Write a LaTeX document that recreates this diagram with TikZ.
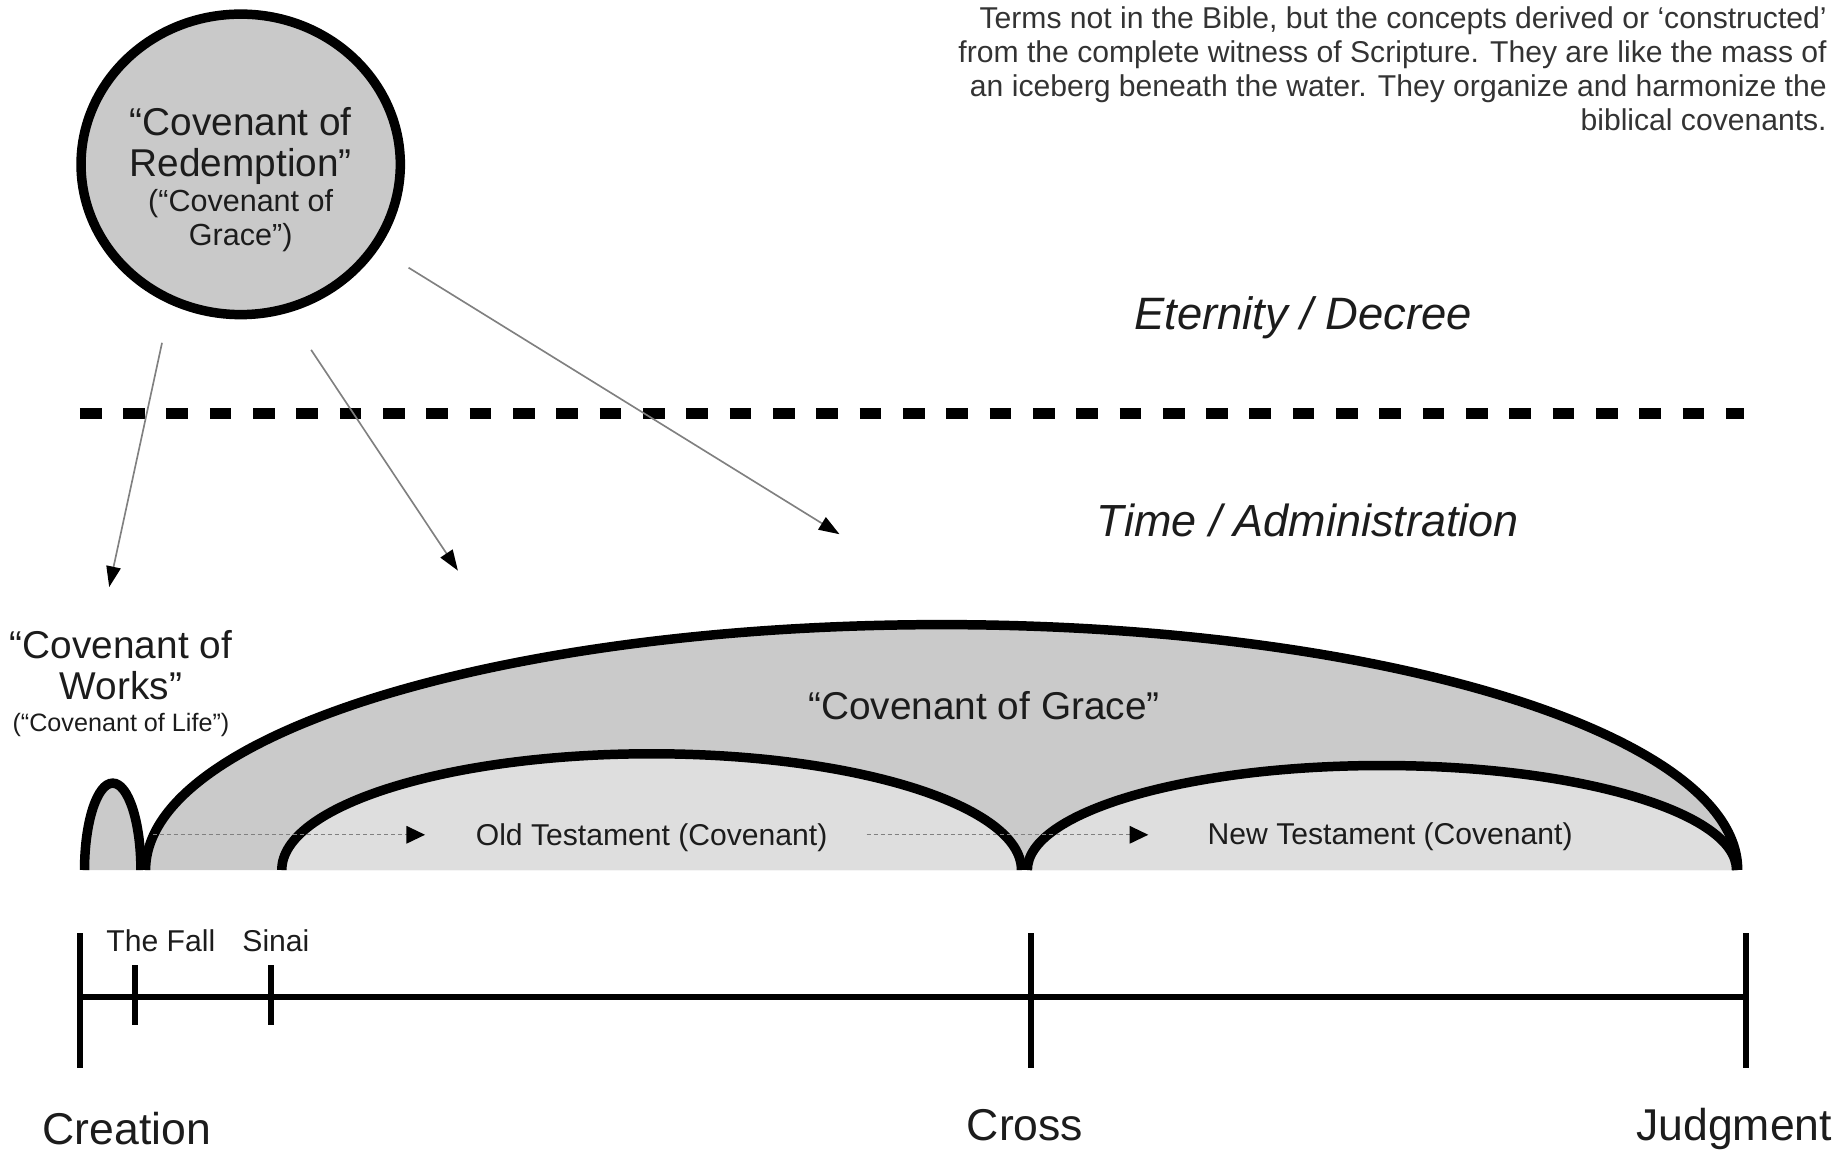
\documentclass[tikz,border=0pt]{standalone}
\usepackage{fontspec}
\setmainfont{Liberation Sans}
\usepackage{tikz}
\usetikzlibrary{arrows.meta}
\usetikzlibrary{shapes.geometric}
\usetikzlibrary{positioning}
\definecolor{circgray}{HTML}{C9C9C9}
\definecolor{gracegray}{HTML}{CACACA}
\definecolor{testgray}{HTML}{DEDEDE}
\definecolor{ink}{HTML}{1C1C1C}
\tikzset{
  arch/.style={draw=black, line width=4.6pt},
  bigtext/.style={font=\fontsize{18.8}{19.9}\selectfont, text=ink, align=center},
  alttext/.style={font=\fontsize{14.8}{16.5}\selectfont, text=ink, align=center},
  labeltext/.style={font=\fontsize{14.6}{16.5}\selectfont, text=ink},
  pointer/.style={draw=gray, line width=0.8pt, -{Triangle[length=10pt,width=7pt,black]}},
  flow/.style={draw=gray, line width=0.6pt, dash pattern=on 2pt off 1.4pt, -{Triangle[length=9pt,width=8.5pt,black]}},
  tick/.style={line width=2.7pt}
}

\begin{document}
\begin{tikzpicture}[x=0.02cm,y=-0.02cm]
\useasboundingbox (0,0) rectangle (1568,982);
% the decree
\node[ellipse, draw, line width=4.6pt, fill=circgray, minimum width=5.44cm, minimum height=5.12cm] (redemption) at (205,140) {};
\node[bigtext, anchor=base] (redname) at (205,150) {“Covenant of\\Redemption”};
\node[alttext, anchor=base] (redalt) at (205,209) {(“Covenant of\\Grace”)};
\node[labeltext, align=right, anchor=base east, text=ink!90] (note) at (1562,111)
  {Terms not in the Bible, but the concepts derived or ‘constructed’\\
   from the complete witness of Scripture. They are like the mass of\\
   an iceberg beneath the water. They organize and harmonize the\\
   biblical covenants.};
\node[font=\fontsize{22}{24}\selectfont\itshape, text=ink, anchor=base] (eternity) at (1110,281) {Eternity / Decree};
\node[font=\fontsize{21.8}{24}\selectfont\itshape, text=ink, anchor=base] (time) at (1114,457) {Time / Administration};
\draw[line width=5.3pt, dash pattern=on 10.5pt off 10.5pt] (68,352) -- (1485,352);

% from eternity into time
\coordinate (cw) at (138,292);  \coordinate (cwtip) at (93,500);
\coordinate (ot) at (265,298);  \coordinate (ottip) at (390,486);
\coordinate (cg) at (348,228);  \coordinate (cgtip) at (715,455);
\draw[pointer] (cw) -- (cwtip);
\draw[pointer] (ot) -- (ottip);
\draw[pointer] (cg) -- (cgtip);

% covenants
\filldraw[arch, fill=gracegray] (124,741) arc[start angle=180, end angle=360, x radius=678, y radius=209];
\filldraw[arch, fill=testgray] (240,741) arc[start angle=180, end angle=360, x radius=315, y radius=99];
\filldraw[arch, fill=testgray] (875,741) arc[start angle=180, end angle=360, x radius=302, y radius=89];
\filldraw[arch, fill=gracegray] (72,741) arc[start angle=180, end angle=360, x radius=24, y radius=74];
\coordinate (f1) at (130,711);  \coordinate (f1tip) at (362,711);
\coordinate (f2) at (738,711);  \coordinate (f2tip) at (978,711);
\draw[flow] (f1) -- (f1tip);
\draw[flow] (f2) -- (f2tip);
\node[bigtext, anchor=base] (works) at (103,596) {“Covenant of\\Works”};
\node[font=\fontsize{12.2}{14}\selectfont, text=ink, anchor=base] (life) at (103,623) {(“Covenant of Life”)};
\node[bigtext, anchor=base] (grace) at (838,613) {“Covenant of Grace”};
\node[labeltext, anchor=base] (oldt) at (555,720) {Old Testament (Covenant)};
\node[labeltext, anchor=base] (newt) at (1184,719) {New Testament (Covenant)};

% timeline
\draw[tick] (68,849) -- (1487,849);
\foreach \x/\a/\b in {68/795/910, 115/822/873, 231/822/873, 878/795/910, 1487/795/910}
  \draw[tick] (\x,\a) -- (\x,\b);
\node[labeltext, anchor=base] (fall) at (137,810) {The Fall};
\node[labeltext, anchor=base] (sinai) at (235,810) {Sinai};
\node[font=\fontsize{21.6}{24}\selectfont, text=ink, anchor=base] (creation) at (108,975) {Creation};
\node[font=\fontsize{21.6}{24}\selectfont, text=ink, anchor=base] (cross) at (873,971) {Cross};
\node[font=\fontsize{21.6}{24}\selectfont, text=ink, anchor=base] (judgment) at (1477,971) {Judgment};
\end{tikzpicture}
\end{document}
